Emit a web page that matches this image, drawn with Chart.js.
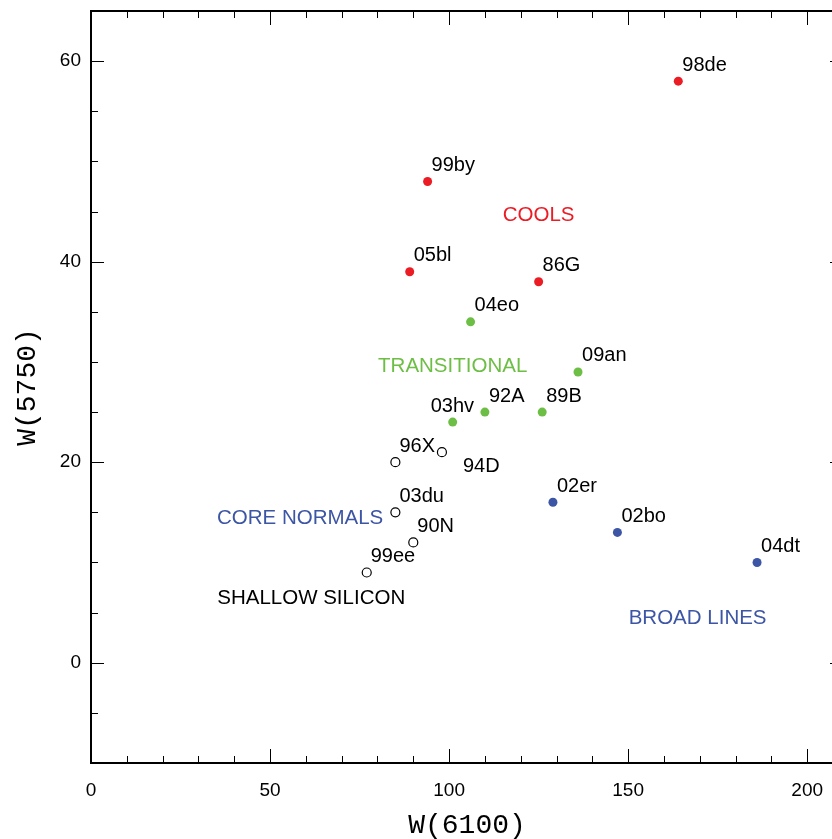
<!DOCTYPE html>
<html>
<head>
<meta charset="utf-8">
<script src="https://cdn.jsdelivr.net/npm/chart.js@4.4.1/dist/chart.umd.min.js"></script>
<style>
  html, body { margin: 0; padding: 0; background: #fff; overflow: hidden; }
  canvas { display: block; }
</style>
</head>
<body>
<canvas id="myChart" width="860" height="839"></canvas>
<script>
// supernovae: W(6100) vs W(5750)
let names  = ['98de', '99by', '05bl', '86G', '04eo', '09an', '92A', '89B', '03hv', '96X', '94D', '03du', '90N', '99ee', '02er', '02bo', '04dt'];
let w6100  = [164, 94, 89, 125, 106, 136, 110, 126, 101, 85, 98, 85, 90, 77, 129, 147, 186];
let w5750  = [58, 48, 39, 38, 34, 29, 25, 25, 24, 20, 21, 15, 12, 9, 16, 13, 10];
let groups = ['cool', 'cool', 'cool', 'cool', 'trans', 'trans', 'trans', 'trans', 'trans', 'core', 'core', 'core', 'core', 'ss', 'broad', 'broad', 'broad'];

// group captions
let groupNames = ['COOLS', 'TRANSITIONAL', 'CORE NORMALS', 'SHALLOW SILICON', 'BROAD LINES'];
let groupX     = [125, 101, 58.4, 61.5, 169.4];
let groupY     = [44.8, 29.7, 14.6, 6.6, 4.6];

let colors = { cool: '#ec1c24', trans: '#6dbe45', core: '#3c55a5', ss: '#000000', broad: '#3c55a5' };
let captionColors = ['#ec1c24', '#6dbe45', '#3c55a5', '#000000', '#3c55a5'];

// label placement (pixels from the point)
let labelOffset = { '03hv': [-22, -16], '94D': [21, 14] };

function pointsOf(keys) {
	let out = [];
	names.forEach((n, i) => {
		if (keys.includes(groups[i])) out.push({ x: w6100[i], y: w5750[i], name: n });
	});
	return out;
}

let datasets = [
	{ data: pointsOf(['cool']), backgroundColor: colors.cool, borderWidth: 0, pointRadius: 4.5 },
	{ data: pointsOf(['trans']), backgroundColor: colors.trans, borderWidth: 0, pointRadius: 4.5 },
	{ data: pointsOf(['broad']), backgroundColor: colors.broad, borderWidth: 0, pointRadius: 4.5 },
	{ data: pointsOf(['core', 'ss']), backgroundColor: '#fff', borderColor: '#000', borderWidth: 1.2, pointRadius: 4.5 }
];

let framePlugin = {
	id: 'frame',
	afterDraw(chart) {
		let ctx = chart.ctx;
		let a = chart.chartArea;
		let x = chart.scales.x, y = chart.scales.y;
		ctx.save();

		function seg(x1, y1, x2, y2) {
			ctx.beginPath(); ctx.moveTo(x1, y1); ctx.lineTo(x2, y2); ctx.stroke();
		}

		// inward ticks
		ctx.strokeStyle = '#000';
		ctx.lineWidth = 1;
		for (let v = 0; v <= 210; v += 10) {
			let p = Math.round(x.getPixelForValue(v)) + 0.5;
			let L = v % 50 === 0 ? 14 : 7;
			seg(p, a.bottom, p, a.bottom - L);
			seg(p, a.top, p, a.top + L);
		}
		for (let v = -10; v <= 65; v += 5) {
			let p = Math.round(y.getPixelForValue(v)) + 0.5;
			let L = v % 20 === 0 ? 13 : 7;
			seg(a.left, p, a.left + L, p);
			seg(a.right, p, a.right - L, p);
		}

		// frame
		ctx.lineWidth = 2;
		ctx.strokeRect(a.left, a.top, a.right - a.left, a.bottom - a.top);

		// point names
		ctx.fillStyle = '#000';
		ctx.font = '20px "Liberation Sans", Arial, sans-serif';
		ctx.textAlign = 'left';
		ctx.textBaseline = 'middle';
		names.forEach((n, i) => {
			let off = labelOffset[n] || [4, -16];
			ctx.fillText(n, x.getPixelForValue(w6100[i]) + off[0], y.getPixelForValue(w5750[i]) + off[1]);
		});

		// group captions
		ctx.font = '20.5px "Liberation Sans", Arial, sans-serif';
		ctx.textAlign = 'center';
		groupNames.forEach((g, i) => {
			ctx.fillStyle = captionColors[i];
			ctx.fillText(g, x.getPixelForValue(groupX[i]), y.getPixelForValue(groupY[i]) + 1.5);
		});

		// axis titles
		ctx.fillStyle = '#000';
		ctx.font = '28px "Liberation Mono", monospace';
		ctx.textAlign = 'center';
		ctx.fillText('W(6100)', (a.left + a.right) / 2, 826);
		ctx.translate(28, (a.top + a.bottom) / 2);
		ctx.rotate(-Math.PI / 2);
		ctx.fillText('W(5750)', 0, 0);
		ctx.restore();
	}
};

let ctx = document.getElementById('myChart').getContext('2d');

let myChart = new Chart(ctx, {
	type: 'scatter',
	data: { datasets: datasets },
	options: {
		responsive: false,
		animation: false,
		layout: { padding: { top: 11, right: 17, left: 0, bottom: 0 } },
		plugins: {
			legend: { display: false },
			tooltip: { enabled: false }
		},
		scales: {
			x: {
				type: 'linear',
				min: 0,
				max: 210,
				grid: { display: false },
				border: { display: false },
				ticks: {
					stepSize: 50,
					includeBounds: false,
					padding: 8,
					color: '#000',
					font: { family: 'Liberation Sans', size: 19 }
				},
				afterFit: (s) => { s.height = 76; s.paddingLeft = 0; s.paddingRight = 0; }
			},
			y: {
				type: 'linear',
				min: -10,
				max: 65,
				grid: { display: false },
				border: { display: false },
				ticks: {
					stepSize: 20,
					includeBounds: false,
					padding: 2,
					color: '#000',
					font: { family: 'Liberation Sans', size: 19 }
				},
				afterFit: (s) => { s.width = 91; s.paddingTop = 0; s.paddingBottom = 0; }
			}
		}
	},
	plugins: [framePlugin]
});
</script>
</body>
</html>
